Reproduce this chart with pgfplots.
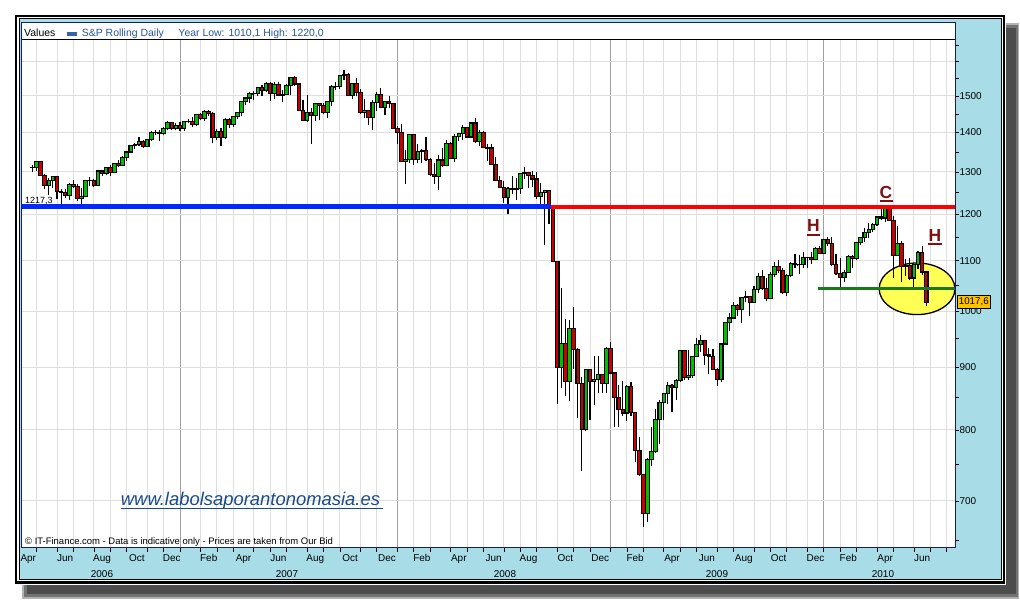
\documentclass[border=0pt]{standalone}
\usepackage{fontspec}
\setmainfont{Liberation Sans}
\usepackage{pgfplots}
\usepackage{pgfplotstable}
\usetikzlibrary{shapes.geometric}
\pgfplotsset{compat=1.18}

\definecolor{lblue}{RGB}{168,221,232}
\definecolor{navy}{RGB}{20,30,100}
\definecolor{cgreen}{RGB}{0,190,0}
\definecolor{cred}{RGB}{200,0,0}
\definecolor{gridc}{RGB}{222,222,222}
\definecolor{yearc}{RGB}{160,160,160}
\definecolor{hdrblue}{RGB}{40,85,155}
\definecolor{legblue}{RGB}{50,100,170}
\definecolor{maroon}{RGB}{128,16,16}
\definecolor{webblue}{RGB}{25,75,140}
\definecolor{lineblue}{RGB}{0,40,255}
\definecolor{linered}{RGB}{255,0,0}
\definecolor{neck}{RGB}{25,120,25}
\definecolor{gold}{RGB}{255,192,0}
\definecolor{ellc}{RGB}{255,255,85}

% weekly candles: x = week index (week ending Friday), open, high, low, close
\pgfplotstableread{
x o h l c
16 1311.3 1316.0 1301.0 1310.6
17 1310.6 1326.7 1303.0 1325.8
18 1325.8 1326.7 1290.0 1291.2
19 1291.2 1294.0 1259.0 1267.0
20 1267.0 1285.0 1245.0 1280.2
21 1280.2 1290.7 1262.0 1288.2
22 1288.2 1290.0 1235.0 1252.3
23 1252.3 1258.0 1219.3 1251.5
24 1251.5 1258.0 1238.0 1244.5
25 1244.5 1272.8 1234.0 1270.2
26 1270.2 1280.4 1261.0 1265.5
27 1265.5 1272.0 1231.0 1236.2
28 1236.2 1262.0 1224.5 1240.3
29 1240.3 1280.0 1239.0 1278.6
30 1278.6 1287.0 1265.0 1279.4
31 1279.4 1283.0 1263.0 1266.7
32 1266.7 1305.0 1266.0 1302.3
33 1302.3 1305.0 1290.0 1295.1
34 1295.1 1312.0 1292.0 1311.0
35 1311.0 1317.0 1290.0 1298.9
36 1298.9 1323.0 1297.0 1319.7
37 1319.7 1330.0 1311.0 1314.8
38 1314.8 1340.0 1314.0 1335.9
39 1335.9 1352.0 1327.0 1349.6
40 1349.6 1367.0 1347.0 1365.6
41 1365.6 1372.0 1358.0 1368.6
42 1368.6 1389.0 1366.0 1377.3
43 1377.3 1381.0 1360.0 1364.3
44 1364.3 1382.0 1363.0 1380.9
45 1380.9 1403.0 1378.0 1401.2
46 1401.2 1407.0 1393.0 1400.9
47 1400.9 1407.0 1378.5 1396.7
48 1396.7 1415.0 1393.0 1409.8
49 1409.8 1431.8 1408.0 1427.1
50 1427.1 1429.0 1406.0 1410.8
51 1410.8 1425.0 1406.0 1418.3
52 1418.3 1429.4 1403.0 1409.7
53 1409.7 1431.2 1405.0 1430.7
54 1430.7 1435.0 1425.0 1430.5
55 1430.5 1441.0 1416.0 1422.2
56 1422.2 1449.3 1418.0 1448.4
57 1448.4 1452.9 1433.0 1438.1
58 1438.1 1461.0 1431.0 1455.5
59 1455.5 1461.6 1445.0 1451.2
60 1451.2 1456.0 1374.0 1387.2
61 1387.2 1410.0 1380.0 1402.8
62 1402.8 1412.0 1363.8 1386.9
63 1386.9 1437.7 1384.0 1436.1
64 1436.1 1438.0 1412.0 1420.9
65 1420.9 1445.0 1416.0 1443.8
66 1443.8 1453.0 1436.0 1452.9
67 1452.9 1484.7 1445.0 1484.4
68 1484.4 1498.0 1474.0 1494.1
69 1494.1 1510.0 1480.0 1505.6
70 1505.6 1513.8 1489.0 1505.9
71 1505.9 1523.0 1499.0 1522.8
72 1522.8 1532.4 1500.0 1515.7
73 1515.7 1540.6 1512.0 1536.3
74 1536.3 1540.0 1487.0 1507.7
75 1507.7 1538.7 1492.0 1532.9
76 1532.9 1540.0 1500.0 1502.6
77 1502.6 1517.0 1484.2 1503.4
78 1503.4 1533.0 1503.0 1530.4
79 1530.4 1555.0 1504.0 1552.5
80 1552.5 1555.9 1529.0 1534.1
81 1534.1 1538.0 1458.7 1458.9
82 1458.9 1488.0 1433.0 1433.1
83 1433.1 1503.9 1429.0 1453.6
84 1453.6 1466.0 1370.6 1445.9
85 1445.9 1481.0 1432.0 1479.4
86 1479.4 1481.0 1432.9 1474.0
87 1474.0 1481.5 1449.0 1453.6
88 1453.6 1485.0 1439.0 1484.3
89 1484.3 1530.0 1471.0 1525.8
90 1525.8 1538.7 1516.0 1526.8
91 1526.8 1561.0 1521.0 1557.6
92 1557.6 1576.1 1546.0 1561.8
93 1561.8 1565.0 1500.0 1500.6
94 1500.6 1536.0 1490.0 1535.3
95 1535.3 1552.8 1498.5 1509.7
96 1509.7 1520.0 1450.0 1453.7
97 1453.7 1492.0 1440.0 1458.7
98 1458.7 1462.0 1420.0 1440.7
99 1440.7 1488.9 1406.1 1481.1
100 1481.1 1510.0 1458.0 1504.7
101 1504.7 1523.6 1467.0 1467.9
102 1467.9 1485.0 1446.0 1484.5
103 1484.5 1498.9 1467.0 1478.5
104 1478.5 1480.0 1411.2 1411.6
105 1411.6 1417.0 1370.0 1401.0
106 1401.0 1423.0 1324.0 1325.2
107 1325.2 1355.0 1270.0 1330.6
108 1330.6 1396.0 1322.0 1395.4
109 1395.4 1396.0 1316.0 1331.3
110 1331.3 1369.0 1321.0 1350.0
111 1350.0 1358.0 1321.0 1353.1
112 1353.1 1389.0 1326.0 1330.6
113 1330.6 1335.0 1290.0 1293.4
114 1293.4 1321.0 1270.0 1288.1
115 1288.1 1341.0 1257.0 1329.5
116 1329.5 1359.0 1312.0 1315.2
117 1315.2 1380.0 1315.0 1370.4
118 1370.4 1375.0 1331.0 1332.8
119 1332.8 1395.9 1324.0 1390.3
120 1390.3 1399.0 1378.0 1397.8
121 1397.8 1421.0 1380.0 1413.9
122 1413.9 1416.0 1385.0 1388.3
123 1388.3 1426.0 1386.0 1425.4
124 1425.4 1440.2 1373.0 1375.9
125 1375.9 1406.0 1364.0 1400.4
126 1400.4 1404.0 1359.0 1360.7
127 1360.7 1370.0 1327.0 1360.0
128 1360.0 1371.0 1317.0 1317.9
129 1317.9 1336.0 1277.0 1278.4
130 1278.4 1291.0 1260.7 1262.9
131 1262.9 1277.0 1225.0 1239.5
132 1239.5 1263.0 1200.4 1260.7
133 1260.7 1291.0 1248.0 1257.8
134 1257.8 1285.0 1234.0 1260.3
135 1260.3 1297.9 1247.0 1296.3
136 1296.3 1313.0 1282.0 1298.2
137 1298.2 1300.7 1261.0 1292.2
138 1292.2 1303.0 1263.0 1282.8
139 1282.8 1300.7 1236.0 1242.3
140 1242.3 1274.0 1212.0 1251.7
141 1251.7 1255.2 1133.5 1255.1
142 1255.1 1255.2 1179.0 1213.3
143 1213.3 1215.0 1097.0 1099.2
144 1099.2 1099.2 839.8 899.2
145 899.2 1044.3 865.8 940.6
146 940.6 985.4 852.8 876.8
147 876.8 984.4 845.3 968.8
148 968.8 1007.5 897.0 931.0
149 931.0 933.0 818.7 873.3
150 873.3 883.0 741.0 800.0
151 800.0 896.3 798.0 896.2
152 896.2 896.2 815.7 876.1
153 876.1 918.9 837.9 879.7
154 879.7 918.6 857.7 887.9
155 887.9 887.9 857.0 872.8
156 872.8 934.7 857.0 931.8
157 931.8 943.9 888.0 890.4
158 890.4 890.4 804.3 850.1
159 850.1 871.0 804.3 832.0
160 832.0 877.9 821.7 825.9
161 825.9 870.7 812.9 868.6
162 868.6 875.0 822.0 826.8
163 826.8 828.0 754.0 770.1
164 770.1 790.0 734.0 735.1
165 735.1 735.1 666.8 683.4
166 683.4 758.3 672.9 756.6
167 756.6 804.5 747.0 768.5
168 768.5 832.9 766.0 815.9
169 815.9 845.6 779.8 842.5
170 842.5 856.9 814.5 856.6
171 856.6 875.0 840.7 869.6
172 869.6 871.8 826.8 866.2
173 866.2 880.4 847.0 877.5
174 877.5 930.2 875.0 929.2
175 929.2 930.0 878.9 882.9
176 882.9 930.5 879.6 887.0
177 887.0 920.0 881.5 919.1
178 919.1 951.7 919.0 940.1
179 940.1 956.2 926.0 946.2
180 946.2 947.0 903.8 921.2
181 921.2 934.0 888.9 918.9
182 918.9 931.0 896.0 896.4
183 896.4 898.7 869.3 879.1
184 879.1 943.0 875.0 940.4
185 940.4 979.8 940.0 979.3
186 979.3 996.7 964.5 987.5
187 987.5 1018.0 986.0 1010.5
188 1010.5 1013.0 991.0 1004.1
189 1004.1 1027.6 978.5 1026.1
190 1026.1 1039.5 1017.0 1028.9
191 1028.9 1030.0 991.0 1016.4
192 1016.4 1048.2 1016.0 1042.7
193 1042.7 1074.8 1036.0 1068.3
194 1068.3 1080.0 1041.0 1044.4
195 1044.4 1065.0 1019.0 1025.2
196 1025.2 1076.0 1025.0 1071.5
197 1071.5 1096.6 1066.0 1087.7
198 1087.7 1101.4 1075.0 1079.6
199 1079.6 1085.0 1033.0 1036.2
200 1036.2 1072.0 1029.4 1069.3
201 1069.3 1097.0 1067.0 1093.5
202 1093.5 1113.7 1085.7 1091.4
203 1091.4 1112.0 1073.0 1091.5
204 1091.5 1119.1 1086.0 1106.0
205 1106.0 1108.0 1085.9 1106.4
206 1106.4 1117.7 1094.0 1102.5
207 1102.5 1128.0 1102.0 1126.5
208 1126.5 1130.4 1114.8 1115.1
209 1115.1 1145.4 1115.0 1145.0
210 1145.0 1150.4 1131.0 1136.0
211 1136.0 1150.5 1090.0 1091.8
212 1091.8 1115.0 1071.6 1073.9
213 1073.9 1104.7 1044.5 1066.2
214 1066.2 1080.0 1056.8 1075.5
215 1075.5 1112.4 1075.5 1109.2
216 1109.2 1112.4 1086.0 1104.5
217 1104.5 1139.0 1101.0 1138.7
218 1138.7 1150.0 1134.0 1150.0
219 1150.0 1169.2 1140.0 1159.9
220 1159.9 1180.7 1148.0 1166.6
221 1166.6 1181.0 1160.0 1178.1
222 1178.1 1194.7 1175.0 1194.4
223 1194.4 1213.9 1188.0 1192.1
224 1192.1 1217.6 1183.0 1217.3
225 1217.3 1219.8 1185.0 1186.7
226 1186.7 1197.0 1065.8 1110.9
227 1110.9 1173.6 1110.0 1135.7
228 1135.7 1141.6 1055.9 1087.7
229 1087.7 1104.0 1069.0 1089.4
230 1089.4 1105.7 1060.0 1064.9
231 1064.9 1092.0 1042.2 1091.6
232 1091.6 1121.0 1082.0 1117.5
233 1117.5 1131.2 1071.0 1076.8
234 1076.8 1077.0 1010.1 1017.6
}\candles

\begin{document}
\begin{tikzpicture}
\useasboundingbox (0,0) rectangle (1020bp,600bp);
\begin{scope}[x=1bp,y=1bp]
\fill[white] (0,0) rectangle (1020,600);
% drop shadow
\fill[black!30] (22,1.5) rectangle (1019,577);
\fill[black!55] (24,3.5) rectangle (1017.5,575);
\fill[black!70] (27,6) rectangle (1015.5,572);
% frame
\fill[white] (14.5,15.5) rectangle (1005.5,585.5);
\draw[black, line width=2.4bp] (16.2,17.6) rectangle (1003.8,583.8);
\filldraw[fill=lblue, draw=black, line width=0.9bp] (19,20.7) rectangle (1001,581.2);
% panel
\fill[white] (21.5,52) rectangle (955,577.5);
\end{scope}

\begin{axis}[
  at={(21.5bp,52bp)}, anchor=south west,
  width=933.5bp, height=509bp, scale only axis,
  xmin=13.34, xmax=241.02,
  ymode=log, ymin=640.7, ymax=1669.8,
  axis line style={draw=none},
  tick align=outside,
  xtick pos=left, ytick pos=right, yticklabel pos=right,
  major tick length=4bp, minor tick length=4bp,
  tick style={black, line width=0.7bp},
  xtick={17,22,26,31,35,39,44,48,57,61,65,70,74,78,83,87,91,96,100,109,113,118,122,126,131,135,139,144,148,152,161,165,170,174,178,183,187,192,196,200,205,213,217,222,226,231,235,239},
  xticklabels={},
  minor xtick={52,105,157,209},
  xmajorgrids, xminorgrids, ymajorgrids,
  major grid style={draw=gridc, line width=0.9bp},
  minor grid style={draw=yearc, line width=0.9bp},
  extra x ticks={15,24,33,41.5,50,59,67.5,76,85,93.5,102.5,111,120,128.5,137,146,154.5,163,172,180.5,189.5,198,207,215,224,233},
  extra x tick labels={Apr,Jun,Aug,Oct,Dec,Feb,Apr,Jun,Aug,Oct,Dec,Feb,Apr,Jun,Aug,Oct,Dec,Feb,Apr,Jun,Aug,Oct,Dec,Feb,Apr,Jun},
  extra x tick style={grid=none, major tick length=0pt, xticklabel style={yshift=-3bp}},
  ytick={700,800,900,1000,1100,1200,1300,1400,1500,1600},
  yticklabels={700,800,900,1000,1100,1200,1300,1400,1500,},
  minor ytick={650,750,850,950,1050,1150,1250,1350,1450,1550,1650},
  ticklabel style={font=\fontsize{10}{12}\selectfont},
  yticklabel style={xshift=-3bp},
  xticklabel style={text height=7.3bp, text depth=2bp},
]
% highlighted zone
\node[ellipse, fill=ellc, draw=black, line width=1.3bp, inner sep=0pt, minimum width=75.8bp, minimum height=51.6bp] at (axis cs:231.76,1043.4) {};

% candles
\pgfplotstablegetrowsof{\candles}
\pgfmathtruncatemacro{\lastrow}{\pgfplotsretval-1}
\pgfplotsforeachungrouped \i in {0,...,\lastrow}{%
  \pgfplotstablegetelem{\i}{x}\of\candles \let\candX\pgfplotsretval
  \pgfplotstablegetelem{\i}{o}\of\candles \let\candO\pgfplotsretval
  \pgfplotstablegetelem{\i}{h}\of\candles \let\candH\pgfplotsretval
  \pgfplotstablegetelem{\i}{l}\of\candles \let\candL\pgfplotsretval
  \pgfplotstablegetelem{\i}{c}\of\candles \let\candC\pgfplotsretval
  \pgfmathsetmacro{\candXa}{\candX-0.43}
  \pgfmathsetmacro{\candXb}{\candX+0.43}
  \ifdim\candC pt<\candO pt \def\candCol{cred}\else\def\candCol{cgreen}\fi
  \edef\candCmd{%
    \noexpand\addplot[forget plot, black, line width=1.1bp] coordinates {(\candX,\candL) (\candX,\candH)};
    \noexpand\addplot[forget plot, draw=black, line width=1.1bp, fill=\candCol] coordinates {(\candXa,\candO) (\candXb,\candO) (\candXb,\candC) (\candXa,\candC) (\candXa,\candO)};
  }\candCmd
}

% support / resistance lines
\addplot[forget plot, lineblue, line width=5bp] coordinates {(13.34,1217.3) (142.41,1217.3)};
\addplot[forget plot, linered, line width=4.7bp] coordinates {(142.41,1217.3) (241.02,1217.3)};
\addplot[forget plot, neck, line width=3.3bp] coordinates {(207.68,1044.4) (241.02,1044.4)};
\end{axis}

\begin{scope}[x=1bp,y=1bp]
% panel border and header
\draw[navy, line width=1bp] (21.5,52) rectangle (955,577.5);
\draw[black, line width=0.9bp] (21.5,561) -- (955,561);
\node[anchor=base west, inner sep=0, font=\fontsize{10.5}{12}\selectfont] at (24,563.3) {Values};
\fill[legblue] (66.7,564) rectangle (77.3,568);
\node[anchor=base west, inner sep=0, text=hdrblue, font=\fontsize{10.5}{12}\selectfont] at (81.7,563.3) {S\&P Rolling Daily};
\node[anchor=base west, inner sep=0, text=hdrblue, font=\fontsize{10.5}{12}\selectfont] at (178.3,563.3) {Year Low: 1010,1 High: 1220,0};

% footer
\node[anchor=base west, inner sep=0, font=\fontsize{9.5}{11}\selectfont] at (25,55.3) {© IT-Finance.com - Data is indicative only - Prices are taken from Our Bid};

% year labels
\node[anchor=base, inner sep=0, font=\fontsize{10}{12}\selectfont] at (102,22.7) {2006};
\node[anchor=base, inner sep=0, font=\fontsize{10}{12}\selectfont] at (287,22.7) {2007};
\node[anchor=base, inner sep=0, font=\fontsize{10}{12}\selectfont] at (505,22.7) {2008};
\node[anchor=base, inner sep=0, font=\fontsize{10}{12}\selectfont] at (717,22.7) {2009};
\node[anchor=base, inner sep=0, font=\fontsize{10}{12}\selectfont] at (883,22.7) {2010};

% level label
\node[anchor=base west, inner sep=0, font=\fontsize{9}{11}\selectfont] at (25,396.7) {1217,3};

% last price box
\node[anchor=west, fill=gold, draw=black, line width=0.7bp, inner xsep=2bp, inner ysep=2.2bp, font=\fontsize{9.8}{11}\selectfont] at (956.5,298) {1017,6};

% pattern letters
\node[anchor=base, inner sep=0, text=maroon, font=\bfseries\fontsize{17.5}{19}\selectfont] at (886,401.5) {C};
\fill[maroon] (879.5,397.5) rectangle (892.5,399.7);
\node[anchor=base, inner sep=0, text=maroon, font=\bfseries\fontsize{17.5}{19}\selectfont] at (813.3,368.3) {H};
\fill[maroon] (806.5,364) rectangle (820,366.3);
\node[anchor=base, inner sep=0, text=maroon, font=\bfseries\fontsize{17.5}{19}\selectfont] at (935,359) {H};
\fill[maroon] (928.3,354.7) rectangle (941.7,357);

% web address
\node[anchor=base west, inner sep=0, text=webblue, font=\itshape\fontsize{18.5}{20}\selectfont] at (120.7,95) {www.labolsaporantonomasia.es};
\fill[webblue] (120.7,90.5) rectangle (382.7,92);
\end{scope}
\end{tikzpicture}
\end{document}
